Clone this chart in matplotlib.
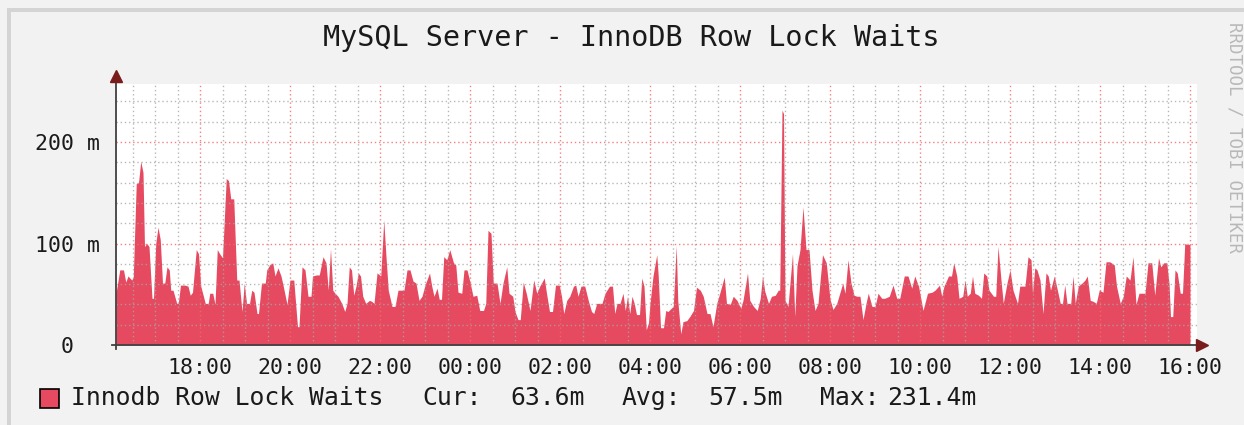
import matplotlib
matplotlib.use("Agg")
import matplotlib.pyplot as plt
from matplotlib.patches import Rectangle
from matplotlib.ticker import MultipleLocator, FixedLocator

# minutes after 16:00 (day 1) and row lock waits in milli-units
minutes = [8, 13, 18, 21, 24, 29, 31, 35, 38, 41, 44, 46, 49, 52, 56, 58, 61, 64, 67, 70,
           73, 76, 79, 81, 84, 89, 91, 94, 100, 104, 107, 110, 115, 118, 121, 127, 131, 133, 137, 140,
           143, 147, 150, 155, 158, 161, 165, 169, 172, 176, 179, 182, 186, 189, 192, 196, 198, 202, 207, 209,
           213, 217, 220, 224, 228, 231, 236,
           240, 245, 250, 252, 256, 260, 264, 268, 270, 275, 279, 284, 288, 291, 294, 297, 300, 304, 309, 313,
           316, 319, 322, 325, 328, 331, 334, 337, 341, 346, 349, 352, 356, 361, 365, 368, 371, 376, 380, 384,
           392, 396, 400, 404, 408, 412, 416, 420, 426, 429, 432, 436, 439, 442, 445, 449, 453, 458, 461, 464,
           469, 472, 476,
           480, 484, 489, 493, 498, 501, 504, 508, 511, 516, 520, 524, 529, 532, 537, 540, 544, 547, 551, 555,
           560, 565, 569, 573, 579, 582, 586, 590, 594, 599, 602, 605, 609, 613, 618, 621, 624, 628, 633, 638,
           642, 645, 649, 656, 660, 666, 670, 673, 676, 680, 684, 687, 690, 693, 696, 699, 702, 706, 709, 712,
           715, 718,
           720, 724, 729, 731, 734, 738, 741, 744, 748, 751, 755, 757, 761, 764, 769, 773, 778, 782, 787, 791,
           796, 800, 804, 809, 813, 819, 822, 827, 831, 836, 841, 844, 850, 853, 858, 863, 867, 870, 873, 878,
           882, 887, 891, 893, 896, 898, 900, 904, 910, 913, 916, 920, 924, 928, 932, 936, 940, 944, 950, 955,
           960, 964, 969, 973, 977, 980, 984, 988, 992, 996, 1000, 1004, 1008, 1011, 1016, 1020, 1024, 1029, 1033, 1039,
           1044, 1049, 1053, 1059, 1064, 1069, 1073, 1078, 1084, 1090, 1096, 1100, 1106, 1109, 1112, 1118, 1122, 1125, 1129, 1132,
           1137, 1140, 1143, 1147, 1150, 1153, 1158, 1162, 1165, 1169, 1172, 1178, 1181, 1184, 1188, 1191, 1196,
           1200, 1204, 1210, 1213, 1220, 1224, 1228, 1230, 1233, 1236, 1240, 1244, 1248, 1251, 1254, 1259, 1262, 1267, 1270, 1273,
           1276, 1281, 1284, 1287, 1291, 1296, 1300, 1303, 1307, 1311, 1315, 1319, 1324, 1328, 1333, 1339, 1342, 1347, 1351, 1355,
           1360, 1364, 1368, 1372, 1380, 1384, 1389, 1393, 1398, 1401, 1405, 1409, 1412, 1414, 1417, 1420, 1423, 1427, 1430, 1433,
           1436, 1440]

waits_m = [51, 74, 74, 62, 68, 64, 67, 159, 160, 181, 170, 97, 100, 97, 46, 46, 100, 116, 104, 61,
           61, 77, 74, 54, 54, 41, 41, 59, 59, 58, 49, 52, 94, 90, 58, 41, 41, 51, 51, 40,
           94, 89, 86, 164, 162, 144, 144, 64, 64, 33, 61, 41, 41, 54, 52, 31, 31, 61, 61, 74,
           79, 81, 68, 76, 68, 58, 40,
           64, 64, 18, 18, 77, 74, 48, 48, 68, 69, 69, 87, 81, 54, 95, 54, 51, 48, 41, 33,
           41, 77, 74, 49, 58, 71, 68, 48, 41, 44, 43, 41, 71, 68, 123, 87, 54, 38, 38, 54,
           54, 74, 74, 63, 61, 44, 48, 59, 71, 58, 48, 56, 45, 45, 87, 84, 94, 81, 79, 52,
           51, 74, 74,
           62, 48, 49, 34, 34, 41, 113, 110, 61, 61, 41, 61, 77, 51, 48, 33, 25, 25, 62, 51,
           34, 64, 51, 58, 66, 51, 33, 33, 59, 59, 48, 31, 44, 48, 58, 59, 48, 58, 58, 43,
           33, 31, 41, 41, 51, 58, 58, 31, 41, 41, 51, 34, 48, 31, 48, 41, 30, 30, 66, 58,
           15, 22,
           41, 68, 89, 68, 17, 17, 34, 33, 36, 38, 98, 44, 11, 23, 24, 28, 34, 57, 54, 48,
           31, 31, 18, 41, 51, 67, 41, 40, 48, 44, 36, 44, 71, 44, 38, 34, 46, 68, 53, 41,
           48, 49, 54, 54, 231.4, 228, 44, 38, 90, 28, 78, 94, 136, 94, 94, 54, 34, 41, 89, 81,
           45, 35, 41, 51, 61, 51, 84, 61, 49, 48, 48, 25, 41, 51, 38, 38, 51, 46, 46, 48,
           59, 46, 46, 68, 68, 56, 68, 58, 34, 51, 52, 54, 59, 48, 58, 68, 68, 81, 68, 46,
           48, 64, 48, 51, 68, 51, 49, 46, 71, 68, 54, 48, 48, 97, 64, 41, 61,
           74, 54, 41, 58, 58, 87, 84, 51, 76, 74, 64, 31, 71, 68, 54, 68, 58, 41, 41, 59,
           41, 41, 68, 41, 58, 61, 64, 68, 44, 43, 41, 54, 52, 82, 82, 79, 58, 41, 48, 68,
           64, 87, 40, 51, 51, 81, 81, 49, 86, 77, 81, 81, 61, 28, 28, 74, 71, 51, 51, 100,
           99, 99]

tick_minutes = [120, 240, 360, 480, 600, 720, 840, 960, 1080, 1200, 1320, 1440]
tick_labels = ["18:00", "20:00", "22:00", "00:00", "02:00", "04:00",
               "06:00", "08:00", "10:00", "12:00", "14:00", "16:00"]
y_ticks = [0, 100, 200]
y_labels = ["0  ", "100 m", "200 m"]

title = "MySQL Server - InnoDB Row Lock Waits"
legend_parts = [("Innodb Row Lock Waits", 71), ("Cur:", 422), ("63.6m", 510),
                ("Avg:", 622), ("57.5m", 708), ("Max:", 820), ("231.4m", 887)]

area_color = "#e64a60"
bg = "#f2f2f2"
mono = "DejaVu Sans Mono"

W, H = 1244, 425
fig = plt.figure(figsize=(W / 100, H / 100), dpi=100, facecolor=bg)

# frame edges like rrdtool
fig.add_artist(Rectangle((7 / W, 0), 4 / W, (H - 8) / H, transform=fig.transFigure,
                         facecolor="#d4d4d4", edgecolor="none"))
fig.add_artist(Rectangle((7 / W, (H - 12) / H), 1, 4 / H, transform=fig.transFigure,
                         facecolor="#d4d4d4", edgecolor="none"))

left, right, bottom, top = 116, 1197, 345, 84
ax = fig.add_axes([left / W, (H - bottom) / H, (right - left) / W, (bottom - top) / H])
ax.set_facecolor("white")
ax.fill_between(minutes, waits_m, 0, color=area_color, linewidth=0, zorder=1)

ax.set_xlim(8, 8 + (right - left) * 4 / 3)
ax.set_ylim(0, (bottom - top) / 1.015)

ax.xaxis.set_major_locator(FixedLocator(tick_minutes))
ax.set_xticks(tick_minutes)
ax.set_xticklabels(tick_labels)
ax.xaxis.set_minor_locator(MultipleLocator(30))
ax.set_yticks(y_ticks)
ax.set_yticklabels(y_labels)
ax.yaxis.set_minor_locator(MultipleLocator(20))

ax.set_axisbelow(False)
ax.grid(which="minor", color="#a6a6a6", linestyle=(0, (1, 2)), linewidth=1.0, alpha=0.8, zorder=2)
ax.grid(which="major", color="#f26b6b", linestyle=(0, (1, 2)), linewidth=1.0, alpha=0.85, zorder=3)

ax.tick_params(which="both", length=0)
ax.tick_params(axis="x", pad=9, labelsize=15.5, colors="#1a1a1a")
ax.tick_params(axis="y", pad=11.5, labelsize=15.5, colors="#1a1a1a")
for lab in ax.get_xticklabels() + ax.get_yticklabels():
    lab.set_fontfamily(mono)

for s in ax.spines.values():
    s.set_visible(False)

# axes with arrows
ax.plot([-0.004, 1.0], [0, 0], transform=ax.transAxes, color="#404040", lw=1.3, clip_on=False, zorder=5)
ax.plot([0, 0], [-0.015, 1.02], transform=ax.transAxes, color="#404040", lw=1.3, clip_on=False, zorder=5)
ax.plot([1.0045], [0], marker=">", ms=8, color="#7a1c1c", transform=ax.transAxes, clip_on=False, zorder=6)
ax.plot([0], [1.03], marker="^", ms=8, color="#7a1c1c", transform=ax.transAxes, clip_on=False, zorder=6)

fig.text(631 / W, (H - 38) / H, title, ha="center", va="center", fontsize=20.5,
         family=mono, color="#1a1a1a")
fig.text(1234 / W, (H - 137) / H, "RRDTOOL / TOBI OETIKER", rotation=-90, ha="center", va="center",
         fontsize=12.5, family=mono, color="#b8b8b8")

# legend
fig.add_artist(Rectangle((40 / W, (H - 408) / H), 19 / W, 19 / H, transform=fig.transFigure,
                         facecolor=area_color, edgecolor="black", linewidth=1.2))
for txt, xpix in legend_parts:
    fig.text(xpix / W, (H - 398) / H, txt, ha="left", va="center", fontsize=17.8,
             family=mono, color="#1a1a1a")

fig.savefig("out.png", dpi=100, facecolor=bg)
